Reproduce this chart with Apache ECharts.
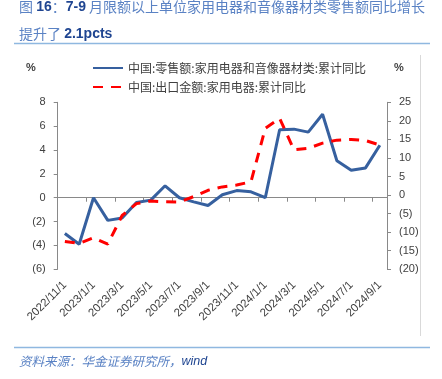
<!DOCTYPE html>
<html>
<head>
<meta charset="utf-8">
<script src="https://cdn.jsdelivr.net/npm/echarts@6/dist/echarts.min.js"></script>
<style>
html,body{margin:0;padding:0;background:#fff;}
#c{width:442px;height:379px;}
</style>
</head>
<body>
<div id="c"></div>
<script>
// ---- data ----
var months = ["2022/11/1","2022/12/1","2023/1/1","2023/2/1","2023/3/1","2023/4/1","2023/5/1","2023/6/1",
  "2023/7/1","2023/8/1","2023/9/1","2023/10/1","2023/11/1","2023/12/1","2024/1/1","2024/2/1",
  "2024/3/1","2024/4/1","2024/5/1","2024/6/1","2024/7/1","2024/8/1","2024/9/1"];
var retailName = "中国:零售额:家用电器和音像器材类:累计同比";
var exportName = "中国:出口金额:家用电器:累计同比";
var retailYoY = [-3.0,-3.9,0,-1.9,-1.7,-0.4,-0.2,1.0,0.0,-0.35,-0.65,0.25,0.6,0.5,0,5.7,5.75,5.5,7.0,3.1,2.3,2.5,4.4];
var exportYoY = [-12.5,-13.0,-11.5,-13.2,-5.5,-2.3,-1.6,-1.8,-1.9,-0.4,1.3,2.2,2.7,3.6,18.0,20.7,12.2,12.6,14.0,14.8,15.0,14.7,13.5];
var leftTicks = {min:-6, max:8, interval:2};
var rightTicks = {min:-20, max:25, interval:5};

var chart = echarts.init(document.getElementById('c'), null, {renderer:'canvas'});
var axisColor = '#898989';
var txtColor = '#404040';
var numFont = '"Liberation Sans", Arial, sans-serif';
var cjkFont = '"Noto Sans CJK SC", "Liberation Sans", sans-serif';
function paren(v){ return v < 0 ? '(' + (-v) + ')' : String(v); }

var option = {
  animation:false,
  backgroundColor:'#fff',
  title:[
    {
      left:14, top:-5,
      text:'{a|图 }{b|16}{a|：}{b|7-9}{a| 月限额以上单位家用电器和音像器材类零售额同比增长}',
      textStyle:{fontWeight:'normal', rich:{
        a:{fontFamily:cjkFont, fontSize:14, color:'#5a82c4', fontWeight:'normal'},
        b:{fontFamily:numFont, fontSize:14, color:'#1f4591', fontWeight:'bold'}
      }}
    },
    {
      left:14, top:22,
      text:'{a|提升了 }{b|2.1pcts}',
      textStyle:{fontWeight:'normal', rich:{
        a:{fontFamily:cjkFont, fontSize:14, color:'#5a82c4', fontWeight:'normal'},
        b:{fontFamily:numFont, fontSize:14, color:'#1f4591', fontWeight:'bold'}
      }}
    },
    {
      left:14, top:350,
      text:'{a|资料来源：华金证券研究所，}{b|wind}',
      textStyle:{fontWeight:'normal', rich:{
        a:{fontFamily:cjkFont, fontSize:12.5, color:'#5a82c4', fontStyle:'italic', fontWeight:'normal'},
        b:{fontFamily:numFont, fontSize:12.5, color:'#1f4591', fontStyle:'italic', fontWeight:'normal'}
      }}
    }
  ],
  graphic:[
    {type:'line', shape:{x1:14,y1:43.5,x2:430,y2:43.5}, style:{stroke:'#8fb8e0', lineWidth:1.5}},
    {type:'line', shape:{x1:14,y1:347.5,x2:430,y2:347.5}, style:{stroke:'#8fb8e0', lineWidth:1.5}},
    {type:'line', shape:{x1:420.5,y1:55,x2:420.5,y2:336}, style:{stroke:'#d9d9d9', lineWidth:1}},
    {type:'text', left:26, top:62, style:{text:'%', fontSize:11, fontWeight:'bold', fill:txtColor, fontFamily:numFont}},
    {type:'text', left:394, top:62, style:{text:'%', fontSize:11, fontWeight:'bold', fill:txtColor, fontFamily:numFont}}
  ],
  legend:{
    orient:'vertical', left:87, top:57,
    itemWidth:30, itemHeight:14, itemGap:7,
    itemStyle:{opacity:0},
    textStyle:{fontSize:12, color:txtColor, fontFamily:cjkFont},
    data:[retailName, exportName]
  },
  grid:{left:57.7, right:55, top:102.3, bottom:109.7, containLabel:false},
  xAxis:[
    {
      type:'category', data:months, boundaryGap:true, position:'bottom',
      axisLine:{show:true, onZero:true, onZeroAxisIndex:0, lineStyle:{color:axisColor, width:1}},
      axisTick:{show:true, interval:1, length:4, lineStyle:{color:axisColor}},
      axisLabel:{show:false},
      splitLine:{show:false}
    },
    {
      type:'category', data:months, boundaryGap:true, position:'bottom',
      axisLine:{show:false, onZero:false},
      axisTick:{show:false},
      axisLabel:{show:true, interval:1, rotate:45, fontSize:11.5, color:txtColor, fontFamily:numFont, margin:14},
      splitLine:{show:false}
    }
  ],
  yAxis:[
    {
      type:'value', position:'left', min:leftTicks.min, max:leftTicks.max, interval:leftTicks.interval,
      axisLine:{show:true, lineStyle:{color:axisColor}},
      axisTick:{show:true, length:4, lineStyle:{color:axisColor}},
      axisLabel:{formatter:paren, fontSize:11, color:txtColor, fontFamily:numFont, margin:12},
      splitLine:{show:false}
    },
    {
      type:'value', position:'right', min:rightTicks.min, max:rightTicks.max, interval:rightTicks.interval,
      axisLine:{show:true, lineStyle:{color:axisColor}},
      axisTick:{show:true, length:4, lineStyle:{color:axisColor}},
      axisLabel:{formatter:paren, fontSize:11, color:txtColor, fontFamily:numFont, margin:12},
      splitLine:{show:false}
    }
  ],
  series:[
    {
      name:retailName, type:'line', xAxisIndex:0, yAxisIndex:0, data:retailYoY,
      symbol:'none', smooth:false,
      lineStyle:{color:'#36609f', width:3},
      itemStyle:{color:'#36609f'}
    },
    {
      name:exportName, type:'line', xAxisIndex:0, yAxisIndex:1, data:exportYoY,
      symbol:'none', smooth:false,
      lineStyle:{color:'#ff0000', width:3, type:[10,8]},
      itemStyle:{color:'#ff0000'}
    }
  ]
};
chart.setOption(option);
</script>
</body>
</html>
